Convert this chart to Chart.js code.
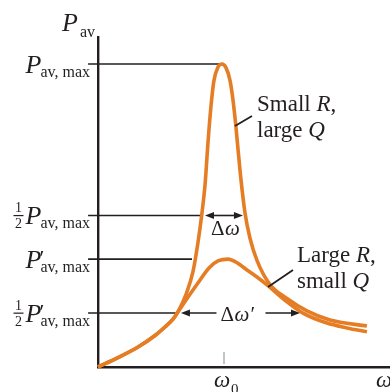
<!DOCTYPE html>
<html>
<head>
<meta charset="utf-8">
<script src="https://cdn.jsdelivr.net/npm/chart.js@4.4.1/dist/chart.umd.min.js"></script>
<style>
  html, body { margin: 0; padding: 0; background: #fff; }
  canvas { display: block; }
</style>
</head>
<body>
<canvas id="chart" width="390" height="392"></canvas>
<script>
// omega / omega0 and P / Pmax
const narrowX = [0, 0.161, 0.323, 0.460, 0.540, 0.605, 0.645, 0.710, 0.766, 0.806, 0.839, 0.863, 0.887, 0.911, 0.935, 0.968, 1.0, 1.032, 1.065, 1.089, 1.113, 1.145, 1.185, 1.226, 1.282, 1.387, 1.524, 1.685, 1.871, 2.169];
const narrowY = [0, 0.031, 0.066, 0.104, 0.132, 0.158, 0.182, 0.240, 0.315, 0.410, 0.510, 0.600, 0.740, 0.860, 0.945, 0.990, 1.0, 0.988, 0.945, 0.880, 0.790, 0.650, 0.510, 0.425, 0.352, 0.272, 0.226, 0.185, 0.155, 0.135];

const wideX = [0, 0.161, 0.323, 0.460, 0.540, 0.605, 0.645, 0.710, 0.806, 0.895, 0.968, 1.048, 1.129, 1.202, 1.282, 1.363, 1.524, 1.653, 1.847, 2.008, 2.169];
const wideY = [0, 0.031, 0.066, 0.104, 0.132, 0.158, 0.182, 0.221, 0.277, 0.327, 0.350, 0.356, 0.342, 0.320, 0.297, 0.271, 0.215, 0.178, 0.145, 0.129, 0.116];

// horizontal guide levels and where each one stops
const guideLevels = [1.0, 0.5, 0.356, 0.178];
const guideEnds = [1.0, 0.84, 0.758, 0.645];
const guideStart = -0.08;

// width arrows: [from, to, level]
const arrowSpans = [[0.863, 1.169, 0.5], [0.669, 1.629, 0.178]];

const omega0 = 1.0;

const ink = "#231f20";
const orange = "#e57d25";
const serif = '"Liberation Serif", "DejaVu Serif", serif';

function toPoints(xs, ys) {
    return xs.map((x, i) => ({ x: x, y: ys[i] }));
}

const guideSets = guideLevels.map((lv, i) => ({
    data: [{ x: guideStart, y: lv }, { x: guideEnds[i], y: lv }],
    borderColor: ink,
    borderWidth: 1.6,
    pointRadius: 0,
    showLine: true,
    clip: false,
    order: 3
}));

function arrowHead(ctx, x, y, dir) {
    ctx.beginPath();
    ctx.moveTo(x, y);
    ctx.lineTo(x - dir * 9, y - 3.5);
    ctx.lineTo(x - dir * 9, y + 3.5);
    ctx.closePath();
    ctx.fill();
}

function pLabel(ctx, right, y, half, prime) {
    ctx.textAlign = "left";
    ctx.textBaseline = "alphabetic";
    ctx.font = "16px " + serif;
    const sub = "av, max";
    const sx = right - ctx.measureText(sub).width;
    ctx.fillText(sub, sx, y + 13);
    ctx.font = "italic 26px " + serif;
    const pw = ctx.measureText("P").width;
    const px = sx - pw + 1;
    ctx.fillText("P", px, y + 9);
    if (prime) {
        ctx.font = "22px " + serif;
        ctx.fillText("\u2032", sx - 1, y + 6);
    }
    if (half) {
        const cx = px - 7;
        ctx.font = "14px " + serif;
        ctx.textAlign = "center";
        ctx.fillText("1", cx, y - 3);
        ctx.fillText("2", cx, y + 13);
        ctx.fillRect(cx - 5, y - 0.5, 10, 1.2);
        ctx.textAlign = "left";
    }
}

const labels = {
    id: "labels",
    afterDraw(chart) {
        const ctx = chart.ctx;
        const xs = chart.scales.x, ys = chart.scales.y;
        ctx.save();
        ctx.fillStyle = ink;
        ctx.strokeStyle = ink;

        // omega0 tick
        const tx = xs.getPixelForValue(omega0) + 2;
        ctx.strokeStyle = "#c4c4c4";
        ctx.lineWidth = 2;
        ctx.beginPath();
        ctx.moveTo(tx, ys.bottom - 15);
        ctx.lineTo(tx, ys.bottom - 3);
        ctx.stroke();

        // width arrows
        ctx.strokeStyle = ink;
        ctx.lineWidth = 1.6;
        arrowSpans.forEach((s, i) => {
            const a = xs.getPixelForValue(s[0]);
            const b = xs.getPixelForValue(s[1]);
            const y = ys.getPixelForValue(s[2]);
            ctx.beginPath();
            if (i === 1) {
                const mid = (a + b) / 2 + 1;
                ctx.moveTo(a + 4, y); ctx.lineTo(mid - 25, y);
                ctx.moveTo(mid + 24, y); ctx.lineTo(b - 4, y);
            } else {
                ctx.moveTo(a + 4, y); ctx.lineTo(b - 4, y);
            }
            ctx.stroke();
            arrowHead(ctx, a, y, -1);
            arrowHead(ctx, b, y, 1);
        });

        // delta omega labels
        ctx.textBaseline = "alphabetic";
        ctx.textAlign = "left";
        let cx = (xs.getPixelForValue(arrowSpans[0][0]) + xs.getPixelForValue(arrowSpans[0][1])) / 2;
        ctx.font = "21px " + serif;
        ctx.fillText("\u0394", cx - 13, ys.getPixelForValue(0.5) + 20);
        ctx.font = "italic 21px " + serif;
        ctx.fillText("\u03c9", cx + 1, ys.getPixelForValue(0.5) + 20);

        cx = (xs.getPixelForValue(arrowSpans[1][0]) + xs.getPixelForValue(arrowSpans[1][1])) / 2;
        const y2 = ys.getPixelForValue(0.178) + 8;
        ctx.font = "21px " + serif;
        ctx.fillText("\u0394", cx - 20, y2);
        ctx.font = "italic 21px " + serif;
        ctx.fillText("\u03c9\u2032", cx - 6, y2);

        // y axis title
        ctx.font = "italic 26px " + serif;
        ctx.fillText("P", 62, 31);
        ctx.font = "16px " + serif;
        ctx.fillText("av", 80, 37);

        // y labels
        pLabel(ctx, 90, ys.getPixelForValue(guideLevels[0]), false, false);
        pLabel(ctx, 90, ys.getPixelForValue(guideLevels[1]), true, false);
        pLabel(ctx, 90, ys.getPixelForValue(guideLevels[2]), false, true);
        pLabel(ctx, 90, ys.getPixelForValue(guideLevels[3]), true, true);

        // x labels
        ctx.font = "italic 23px " + serif;
        ctx.fillText("\u03c9", tx - 10, ys.bottom + 20);
        ctx.font = "15px " + serif;
        ctx.fillText("0", tx + 7, ys.bottom + 27);
        ctx.font = "italic 23px " + serif;
        ctx.fillText("\u03c9", 376, ys.bottom + 20);

        // curve notes
        ctx.font = "23px " + serif;
        ctx.fillText("Small ", 257, 111);
        let w = ctx.measureText("Small ").width;
        ctx.font = "italic 23px " + serif;
        ctx.fillText("R", 257 + w, 111);
        let w2 = ctx.measureText("R").width;
        ctx.font = "23px " + serif;
        ctx.fillText(",", 257 + w + w2, 111);
        ctx.fillText("large ", 257, 137);
        w = ctx.measureText("large ").width;
        ctx.font = "italic 23px " + serif;
        ctx.fillText("Q", 257 + w, 137);

        ctx.font = "23px " + serif;
        ctx.fillText("Large ", 297, 262);
        w = ctx.measureText("Large ").width;
        ctx.font = "italic 23px " + serif;
        ctx.fillText("R", 297 + w, 262);
        w2 = ctx.measureText("R").width;
        ctx.font = "23px " + serif;
        ctx.fillText(",", 297 + w + w2, 262);
        ctx.fillText("small ", 297, 288);
        w = ctx.measureText("small ").width;
        ctx.font = "italic 23px " + serif;
        ctx.fillText("Q", 297 + w, 288);

        // leader lines
        ctx.lineWidth = 1.8;
        ctx.beginPath();
        ctx.moveTo(235, 126); ctx.lineTo(252, 116);
        ctx.moveTo(268, 287); ctx.lineTo(293, 270);
        ctx.stroke();
        ctx.restore();
    }
};

const chart = new Chart(document.getElementById("chart").getContext("2d"), {
    type: "scatter",
    data: {
        datasets: [
            {
                label: "Small R, large Q",
                data: toPoints(narrowX, narrowY),
                borderColor: orange,
                borderWidth: 3.6,
                pointRadius: 0,
                showLine: true,
                cubicInterpolationMode: "monotone",
                clip: false,
                order: 0
            },
            {
                label: "Large R, small Q",
                data: toPoints(wideX, wideY),
                borderColor: orange,
                borderWidth: 3.6,
                pointRadius: 0,
                showLine: true,
                cubicInterpolationMode: "monotone",
                clip: false,
                order: 1
            },
            ...guideSets
        ]
    },
    options: {
        responsive: false,
        devicePixelRatio: 1,
        animation: false,
        events: [],
        layout: { padding: { left: 98, top: 37, right: 0, bottom: 25 } },
        plugins: {
            legend: { display: false },
            tooltip: { enabled: false }
        },
        scales: {
            x: {
                type: "linear",
                min: 0,
                max: 2.355,
                ticks: { display: false },
                grid: { display: false, drawTicks: false },
                border: { display: true, color: ink, width: 2.4 }
            },
            y: {
                type: "linear",
                min: 0,
                max: 1.089,
                ticks: { display: false },
                grid: { display: false, drawTicks: false },
                border: { display: true, color: ink, width: 2.4 }
            }
        }
    },
    plugins: [labels]
});
</script>
</body>
</html>
